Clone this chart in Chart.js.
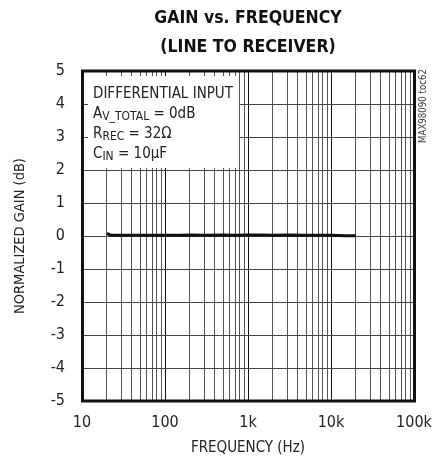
<!DOCTYPE html>
<html>
<head>
<meta charset="utf-8">
<script src="https://cdn.jsdelivr.net/npm/chart.js@4/dist/chart.umd.min.js"></script>
<style>
  body { margin: 0; background: #fff; }
  canvas { display: block; }
</style>
</head>
<body>
<canvas id="chart" width="434" height="460"></canvas>
<script>
// gain curve
const freqHz = [20, 22, 25, 30, 40, 50, 70, 100, 150, 200, 300, 500, 700, 1000, 1500, 2000, 3000, 5000, 7000, 10000, 15000, 20000];
const gainDb = [0.08, 0.03, 0.02, 0.02, 0.02, 0.02, 0.02, 0.02, 0.02, 0.03, 0.02, 0.03, 0.02, 0.03, 0.03, 0.02, 0.03, 0.02, 0.02, 0.02, 0.01, 0.01];

// axes
const decades = [10, 100, 1000, 10000, 100000];
const decadeLabels = ['10', '100', '1k', '10k', '100k'];
const minorSteps = [2, 3, 4, 5, 6, 7, 8, 9];
const yMin = -5, yMax = 5;

const noteLines = [
  ['DIFFERENTIAL INPUT', '', ''],
  ['A', 'V_TOTAL', ' = 0dB'],
  ['R', 'REC', ' = 32\u03A9'],
  ['C', 'IN', ' = 10\u00B5F']
];

const FONT = "'Liberation Sans Narrow', 'DejaVu Sans Condensed', Arial, sans-serif";
Chart.defaults.font.family = FONT;
Chart.defaults.color = '#222';

const xGrid = [];
decades.forEach((d, i) => {
  xGrid.push(d);
  if (i < decades.length - 1) minorSteps.forEach(m => xGrid.push(d * m));
});

const framePlugin = {
  id: 'frame',
  beforeDatasetsDraw(chart) {
    const { ctx, chartArea: a } = chart;
    ctx.save();
    // white note box over the grid
    ctx.fillStyle = '#fff';
    ctx.fillRect(a.left + 6, a.top + 5, 151, 92);
    ctx.fillStyle = '#222';
    ctx.textBaseline = 'alphabetic';
    noteLines.forEach((ln, i) => {
      let x = a.left + 11;
      const y = a.top + 27 + i * 20;
      ctx.font = '15px ' + FONT;
      ctx.fillText(ln[0], x, y);
      x += ctx.measureText(ln[0]).width;
      if (ln[1]) {
        ctx.font = '12px ' + FONT;
        ctx.fillText(ln[1], x, y + 2);
        x += ctx.measureText(ln[1]).width;
      }
      ctx.font = '15px ' + FONT;
      ctx.fillText(ln[2], x, y);
    });
    ctx.restore();
  },
  afterDatasetsDraw(chart) {
    const { ctx, chartArea: a } = chart;
    ctx.save();
    ctx.strokeStyle = '#111';
    ctx.lineWidth = 3;
    ctx.strokeRect(a.left + 0.5, a.top, a.right - a.left, a.bottom - a.top);
    // part number on the right
    ctx.translate(a.right + 9, a.top + 35);
    ctx.rotate(-Math.PI / 2);
    ctx.font = '9.6px ' + FONT;
    ctx.fillStyle = '#444';
    ctx.textAlign = 'center';
    ctx.textBaseline = 'middle';
    ctx.fillText('MAX98090 toc62', 0, 0);
    ctx.restore();
  }
};

new Chart(document.getElementById('chart'), {
  type: 'line',
  data: {
    datasets: [{
      data: freqHz.map((f, i) => ({ x: f, y: gainDb[i] })),
      borderColor: '#111',
      borderWidth: 3,
      pointRadius: 0,
      tension: 0,
      fill: false
    }]
  },
  options: {
    responsive: false,
    animation: false,
    layout: { padding: { left: 0, right: 20, top: 0, bottom: 0 } },
    plugins: {
      legend: { display: false },
      tooltip: { enabled: false },
      title: {
        display: true,
        fullSize: false,
        text: ['GAIN vs. FREQUENCY', '(LINE TO RECEIVER)'],
        color: '#111',
        font: { size: 17.5, weight: 'bold', lineHeight: '29px' },
        padding: { top: 4, bottom: 9 }
      }
    },
    scales: {
      x: {
        type: 'logarithmic',
        min: 10,
        max: 100000,
        afterFit: s => {
          s.height = 59;
          s.paddingLeft = 0;
          s.paddingRight = 0;
        },
        afterBuildTicks: s => {
          s.ticks = xGrid.map(v => ({ value: v, major: decades.includes(v) }));
        },
        grid: {
          drawTicks: false,
          lineWidth: 1,
          color: c => (c.tick && decades.includes(c.tick.value)) ? '#111' : '#555'
        },
        border: { display: false },
        ticks: {
          autoSkip: false,
          maxRotation: 0,
          minRotation: 0,
          padding: 12,
          font: { size: 16 },
          callback: v => {
            const k = decades.indexOf(v);
            return k >= 0 ? decadeLabels[k] : '';
          }
        },
        title: {
          display: true,
          text: 'FREQUENCY (Hz)',
          font: { size: 15 },
          padding: { top: 0, bottom: 3 }
        }
      },
      y: {
        min: yMin,
        max: yMax,
        afterFit: s => { s.width = 82; },
        grid: { drawTicks: false, lineWidth: 1, color: '#444' },
        border: { display: false },
        ticks: { stepSize: 1, padding: 17, font: { size: 16 } },
        title: {
          display: true,
          text: 'NORMALIZED GAIN (dB)',
          font: { size: 14.5 },
          padding: { top: 12, bottom: 0 }
        }
      }
    }
  },
  plugins: [framePlugin]
});
</script>
</body>
</html>
